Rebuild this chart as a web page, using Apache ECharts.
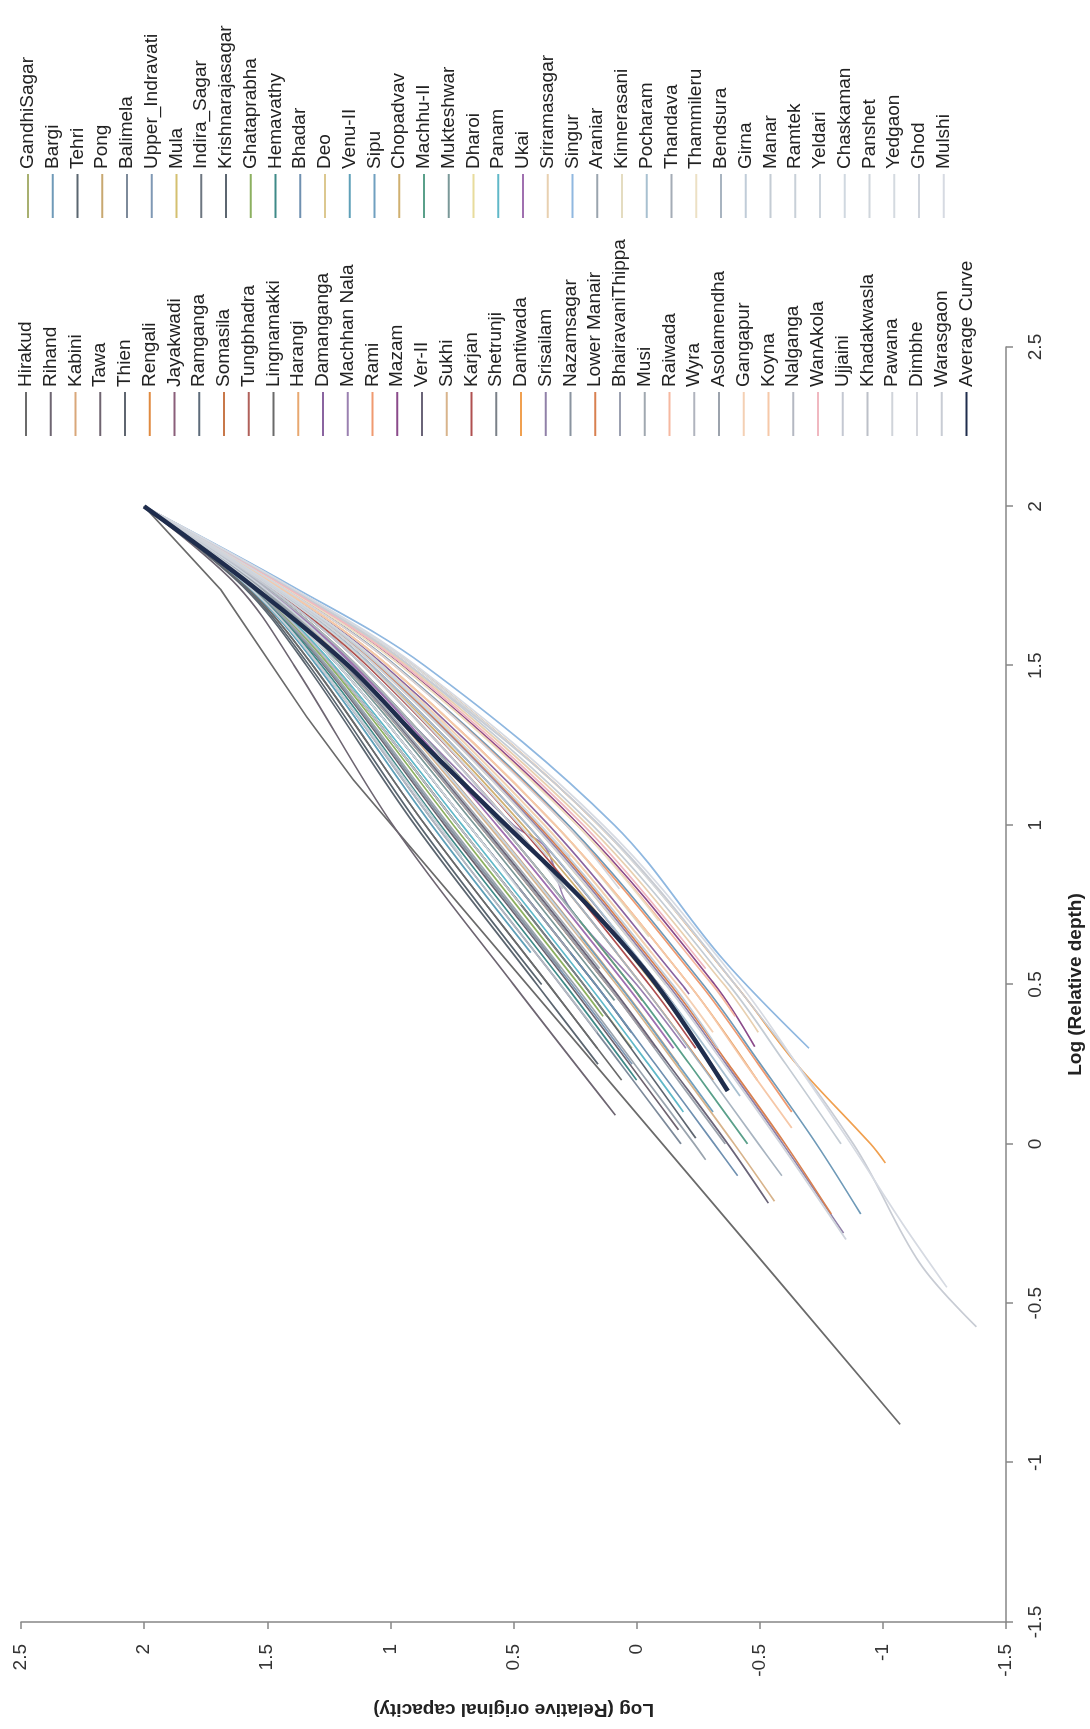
<!DOCTYPE html>
<html>
<head>
<meta charset="utf-8">
<script src="https://cdn.jsdelivr.net/npm/echarts@6/dist/echarts.min.js"></script>
<style>
html,body{margin:0;padding:0;background:#fff;overflow:hidden;width:1090px;height:1729px}
#chart{position:absolute;left:0;top:0;width:1729px;height:1090px;transform-origin:0 0;transform:translate(0,1729px) rotate(-90deg);background:#fff}
</style>
</head>
<body>
<div id="chart"></div>
<script>
// Series names in plotting order (legend column 1 and column 2 interleaved)
const names = ["Hirakud","GandhiSagar","Rihand","Bargi","Kabini","Tehri","Tawa","Pong","Thien","Balimela",
"Rengali","Upper_Indravati","Jayakwadi","Mula","Ramganga","Indira_Sagar","Somasila","Krishnarajasagar","Tungbhadra","Ghataprabha",
"Lingnamakki","Hemavathy","Harangi","Bhadar","Damanganga","Deo","Machhan Nala","Venu-II","Rami","Sipu",
"Mazam","Chopadvav","Ver-II","Machhu-II","Sukhi","Mukteshwar","Karjan","Dharoi","Shetrunji","Panam",
"Dantiwada","Ukai","Srisailam","Sriramasagar","Nazamsagar","Singur","Lower Manair","Araniar","BhairavaniThippa","Kinnerasani",
"Musi","Pocharam","Raiwada","Thandava","Wyra","Thammileru","Asolamendha","Bendsura","Gangapur","Girna",
"Koyna","Manar","Nalganga","Ramtek","WanAkola","Yeldari","Ujjaini","Chaskaman","Khadakwasla","Panshet",
"Pawana","Yedgaon","Dimbhe","Ghod","Warasgaon","Mulshi","Average Curve"];

// Log (relative depth) values per series
const depth = [
[2,1.74,1.34,1.142,-0.417,-0.88],
[2,1.75,1.5,1,0.5,0.3],
[2,1.75,1.5,1,0.5,0.09],
[2,1.75,1.5,1,0.5,0.25,0,-0.22],
[2,1.75,1.5,1,0.5,0.25],
[2,1.75,1.5,1,0.5],
[2,1.75,1.5,1,0.5,0.044],
[2,1.75,1.5,1,0.5],
[2,1.75,1.5,1,0.5,0.018],
[2,1.75,1.5,1,0.5,0.25,0],
[2,1.75,1.5,1,0.5,0.2],
[2,1.75,1.5,1,0.5,0.25],
[2,1.75,1.5,1,0.5,0.4],
[2,1.75,1.5,1,0.5],
[2,1.75,1.5,1,0.5,0.35],
[2,1.75,1.5,1,0.5,0.3],
[2,1.75,1.5,1,0.5,0.45],
[2,1.75,1.5,1,0.5,0.25],
[2,1.75,1.5,1,0.5,0.3],
[2,1.75,1.5,1,0.5,0.4],
[2,1.75,1.5,1,0.5,0.2],
[2,1.75,1.5,1,0.5,0.2],
[2,1.75,1.5,1,0.5,0.2],
[2,1.75,1.5,1,0.5,0.25,0,-0.1],
[2,1.75,1.5,1,0.5,0.47],
[2,1.75,1.5,1,0.5],
[2,1.75,1.5,1,0.93,0.75,0.5,0.3],
[2,1.75,1.5,1,0.6],
[2,1.75,1.5,1,0.5,0.25,0.1],
[2,1.75,1.5,1,0.5,0.25,0.1],
[2,1.75,1.5,1,0.5,0.305],
[2,1.75,1.5,1,0.5,0.2],
[2,1.75,1.5,1,0.5,0.25,0,-0.186],
[2,1.75,1.5,1,0.5,0.25,0],
[2,1.75,1.5,1,0.5,0.25,0,-0.18],
[2,1.75,1.5,1,0.45],
[2,1.75,1.5,1,0.5,0.3],
[2,1.75,1.5,1,0.6],
[2,1.75,1.5,1,0.5,0.4],
[2,1.75,1.5,1,0.5,0.25,0.1],
[2,1.75,1.5,1,0.5,0.25,0,-0.06],
[2,1.75,1.5,1,0.5,0.3],
[2,1.75,1.5,1,0.5,0.25,0,-0.28],
[2,1.75,1.5,1,0.5,0.35],
[2,1.75,1.5,1,0.55],
[2,1.75,1.5,1,0.577,0.3],
[2,1.75,1.5,1,0.5,0.25,0,-0.22],
[2,1.75,1.5,1,0.5,0.25,0,-0.05],
[2,1.75,1.5,1,0.6],
[2,1.75,1.5,1,0.65],
[2,1.75,1.5,1,0.6],
[2,1.75,1.5,1,0.5,0.15],
[2,1.75,1.5,1,0.5,0.4],
[2,1.75,1.5,1,0.55],
[2,1.75,1.5,1,0.7],
[2,1.75,1.5,1,0.7],
[2,1.75,1.5,1,0.5,0.25,0],
[2,1.75,1.5,1,0.5,0.25,0,-0.1],
[2,1.75,1.5,1,0.5,0.35],
[2,1.75,1.5,1,0.5,0.3],
[2,1.75,1.5,1,0.5,0.25,0.05],
[2,1.75,1.5,1,0.5,0.25,0],
[2,1.75,1.5,1,0.5,0.35],
[2,1.75,1.5,0.9],
[2,1.75,1.5,1,0.55],
[2,1.75,1.5,1,0.65],
[2,1.75,1.5,1,0.8],
[2,1.75,1.5,0.9],
[2,1.75,1.5,1,0.75],
[2,1.75,1.5,1,0.8],
[2,1.75,1.5,0.9],
[2,1.75,1.5,1,0.5],
[2,1.75,1.5,1,0.8],
[2,1.75,1.5,1,0.5,0.25,0,-0.3],
[2,1.75,1.5,1,0.5,0,-0.374,-0.574],
[2,1.75,1.5,1,0.5,0.25,0,-0.25,-0.45],
[2,1.75,1.5,1.25,1,0.75,0.5,0.166]
];

// Log (relative original capacity) values per series
const capacity = [
[2,1.69,1.34,1.15,-0.563,-1.07],
[2,1.556,1.237,0.726,0.215,0.02],
[2,1.62,1.39,0.99,0.5,0.086],
[2,1.446,0.977,0.277,-0.27,-0.503,-0.73,-0.91],
[2,1.52,1.16,0.59,0.07,-0.17],
[2,1.594,1.329,0.884,0.386],
[2,1.568,1.268,0.779,0.272,-0.17],
[2,1.545,1.21,0.682,0.167],
[2,1.556,1.237,0.726,0.215,-0.24],
[2,1.577,1.288,0.814,0.31,0.064,-0.18],
[2,1.5,1.11,0.506,-0.02,-0.31],
[2,1.566,1.263,0.77,0.263,0.018],
[2,1.487,1.074,0.444,-0.09,-0.184],
[2,1.534,1.186,0.638,0.12],
[2,1.545,1.21,0.682,0.167,0.022],
[2,1.588,1.314,0.858,0.358,0.16],
[2,1.513,1.135,0.55,0.025,-0.023],
[2,1.6,1.34,0.9,0.405,0.157],
[2,1.534,1.186,0.638,0.12,-0.074],
[2,1.56,1.247,0.744,0.234,0.136],
[2,1.588,1.314,0.858,0.358,0.061],
[2,1.573,1.278,0.796,0.291,0.0],
[2,1.459,1.008,0.33,-0.213,-0.49],
[2,1.545,1.21,0.682,0.167,-0.076,-0.315,-0.41],
[2,1.465,1.023,0.356,-0.184,-0.213],
[2,1.48,1.058,0.418,-0.118],
[2,1.52,1.15,0.5,0.37,0.28,0.0,-0.2],
[2,1.581,1.298,0.832,0.43],
[2,1.448,0.982,0.286,-0.26,-0.494,-0.63],
[2,1.523,1.16,0.594,0.073,-0.168,-0.31],
[2,1.435,0.951,0.233,-0.317,-0.48],
[2,1.491,1.084,0.462,-0.07,-0.35],
[2,1.532,1.181,0.629,0.11,-0.13,-0.37,-0.535],
[2,1.513,1.135,0.55,0.025,-0.215,-0.45],
[2,1.525,1.166,0.603,0.082,-0.159,-0.396,-0.56],
[2,1.538,1.196,0.656,0.09],
[2,1.495,1.094,0.48,-0.051,-0.24],
[2,1.47,1.033,0.374,-0.06],
[2,1.556,1.237,0.726,0.215,0.12],
[2,1.551,1.227,0.708,0.196,-0.048,-0.19],
[2,1.415,0.905,0.154,-0.4,-0.65,-0.95,-1.01],
[2,1.517,1.145,0.568,0.044,-0.15],
[2,1.478,1.053,0.409,-0.127,-0.364,-0.594,-0.84],
[2,1.427,0.931,0.198,-0.355,-0.494],
[2,1.566,1.263,0.77,0.31],
[2,1.4,0.86,0.09,-0.353,-0.7],
[2,1.476,1.048,0.4,-0.137,-0.373,-0.603,-0.79],
[2,1.564,1.257,0.761,0.253,0.008,-0.234,-0.28],
[2,1.545,1.21,0.682,0.27],
[2,1.459,1.008,0.33,-0.05],
[2,1.502,1.11,0.506,0.08],
[2,1.487,1.074,0.444,-0.089,-0.42],
[2,1.437,0.957,0.242,-0.307,-0.4],
[2,1.53,1.176,0.62,0.15],
[2,1.513,1.135,0.55,0.235],
[2,1.437,0.957,0.242,-0.09],
[2,1.534,1.186,0.638,0.12,-0.12,-0.36],
[2,1.502,1.11,0.506,-0.02,-0.26,-0.495,-0.59],
[2,1.47,1.033,0.374,-0.165,-0.31],
[2,1.474,1.043,0.392,-0.146,-0.33],
[2,1.459,1.008,0.33,-0.213,-0.443,-0.63],
[2,1.422,0.921,0.18,-0.374,-0.606,-0.83],
[2,1.577,1.288,0.814,0.31,0.16],
[2,1.577,1.288,0.71],
[2,1.431,0.941,0.216,-0.28],
[2,1.523,1.16,0.594,0.23],
[2,1.502,1.11,0.506,0.3],
[2,1.47,1.033,0.27],
[2,1.556,1.237,0.726,0.47],
[2,1.545,1.21,0.682,0.48],
[2,1.491,1.084,0.36],
[2,1.415,0.906,0.154,-0.4],
[2,1.448,0.982,0.286,0.07],
[2,1.48,1.058,0.418,-0.118,-0.355,-0.585,-0.85],
[2,1.42,0.92,0.15,-0.4,-0.88,-1.15,-1.38],
[2,1.411,0.895,0.136,-0.42,-0.65,-0.87,-1.08,-1.26],
[2,1.56,1.17,0.86,0.53,0.2,-0.08,-0.37]
];

const axisTicks = [-1.5,-1,-0.5,0,0.5,1,1.5,2,2.5];

const colors = ["#6b6b6b","#a8b070","#6e6672","#6f9ab8","#d9a77a","#5a6670","#6f6470","#c8a870","#5f6670","#7d8a9a",
"#e08a40","#7f98b4","#8a5f7a","#d4c070","#5d6b7a","#6d7680","#c8784a","#5c6670","#b0605a","#8cb060",
"#6a6a6a","#3f8a88","#e8a870","#6f90b0","#8a64a0","#dcc890","#9a80b0","#5fa0b8","#f09a70","#70a0c0",
"#8a4a8a","#d0b070","#6a6478","#5aa08a","#d8b48c","#7a9898","#b05050","#e8dc9c","#7a8088","#60b8c8",
"#f0a050","#a070b0","#9080a8","#e8d0b0","#8a94a0","#90b8e0","#d88050","#9aa4ae","#9ba0b0","#e4dcc0",
"#a0a8b0","#a8c0d0","#f6b8a0","#a4acb6","#b0b4be","#ece0c4","#9ca3ad","#a8b4c0","#f4d0b4","#c0ccd8",
"#f6c8a8","#c4ccd4","#b4b8c2","#c8d0d8","#f0b8c0","#ccd4dc","#c4c8d2","#d0d8e0","#bcc0c8","#d0d6dc",
"#d0d4da","#d4dae0","#d4d6dc","#cfd4dc","#c8ccd4","#d6dae2","#1f2d4d"];

const legendCol1 = names.filter((n, i) => i % 2 === 0);
const legendCol2 = names.filter((n, i) => i % 2 === 1);

const FONT = "'Liberation Sans Narrow', 'Liberation Sans', Arial, sans-serif";
const chart = echarts.init(document.getElementById('chart'), null, {renderer: 'canvas'});

const series = names.map((n, i) => ({
  name: n,
  type: 'line',
  data: depth[i].map((d, k) => [d, capacity[i][k]]),
  symbol: 'none',
  smooth: i === 0 ? false : 0.35,
  lineStyle: {width: i === names.length - 1 ? 4.5 : 1.7, color: colors[i]},
  itemStyle: {color: colors[i]},
  z: i === names.length - 1 ? 5 : 2,
  emphasis: {disabled: true},
  silent: true
}));

const legendBase = {
  orient: 'vertical', padding: 0, itemWidth: 44, itemHeight: 14, itemGap: 4.75,
  selectedMode: false,
  itemStyle: {color: 'rgba(0,0,0,0)', borderColor: 'rgba(0,0,0,0)', borderWidth: 0, opacity: 0},
  textStyle: {fontSize: 19, lineHeight: 20, color: '#222', fontFamily: FONT}
};

const axisCommon = {
  type: 'value', min: -1.5, max: 2.5, interval: 0.5,
  nameLocation: 'middle',
  axisLine: {onZero: false, lineStyle: {color: '#868686', width: 1.5}},
  axisTick: {show: true, length: 7, lineStyle: {color: '#868686', width: 1.5}},
  splitLine: {show: false},
  axisLabel: {fontSize: 19, color: '#333', fontFamily: "'Liberation Sans', Arial, sans-serif",
    formatter: v => String(axisTicks.find(t => Math.abs(t - v) < 1e-9) ?? v)}
};

chart.setOption({
  animation: false,
  backgroundColor: '#ffffff',
  grid: {left: 107, top: 21, width: 1275, height: 987, containLabel: false},
  legend: [
    Object.assign({}, legendBase, {data: legendCol1, left: 1292, top: 16}),
    Object.assign({}, legendBase, {data: legendCol2, left: 1510, top: 18})
  ],
  xAxis: Object.assign({}, axisCommon, {
    name: 'Log (Relative depth)', nameGap: 60,
    nameTextStyle: {fontSize: 19, fontWeight: 'bold', color: '#222', fontFamily: FONT},
    axisLabel: Object.assign({}, axisCommon.axisLabel, {margin: 20})
  }),
  yAxis: Object.assign({}, axisCommon, {
    name: 'Log (Relative original capacity)', nameGap: 78,
    nameTextStyle: {fontSize: 19, fontWeight: 'bold', color: '#222', fontFamily: "'Liberation Sans', Arial, sans-serif"},
    axisLabel: Object.assign({}, axisCommon.axisLabel, {margin: 22})
  }),
  series: series
});
</script>
</body>
</html>
